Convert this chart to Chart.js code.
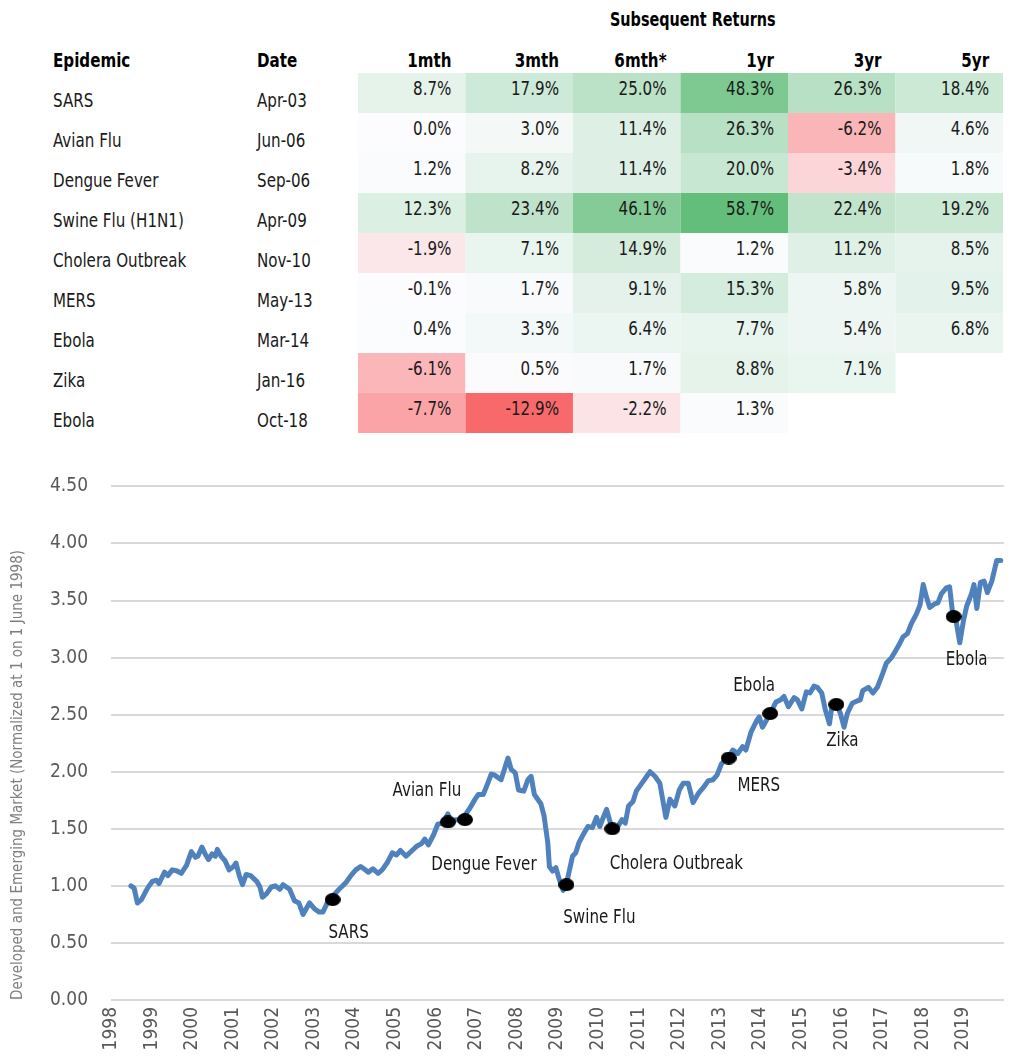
<!DOCTYPE html>
<html>
<head>
<meta charset="utf-8">
<script src="https://cdn.jsdelivr.net/npm/chart.js@4.4.1/dist/chart.umd.min.js"></script>
<style>
  html, body { margin: 0; padding: 0; background: #fff; }
  body { font-family: "DejaVu Sans Condensed", "DejaVu Sans", sans-serif; color: #000; }
  #page { position: relative; width: 1013px; height: 1057px; overflow: hidden; }
  #title {
    position: absolute; left: 610px; top: 9px; font-weight: bold; font-size: 20px; line-height: 20px;
    white-space: nowrap; transform: scaleX(0.8); transform-origin: 0 0;
  }
  /* the grid is laid out wide and squeezed horizontally, so the text reads condensed */
  #grid {
    position: absolute; left: 53px; top: 40px; display: grid;
    grid-template-columns: 242.9px 120.2px repeat(6, 128px);
    grid-template-rows: 33px repeat(9, 40px);
    font-size: 20px; line-height: 20px;
    transform: scaleX(0.84); transform-origin: 0 0;
  }
  #grid div { box-sizing: border-box; white-space: nowrap; }
  .h { font-weight: bold; padding-top: 10px; }
  .hr { text-align: right; padding-right: 16.7px; }
  .num { text-align: right; padding-right: 16.7px; padding-top: 5px; color: #1a1a1a; }
  .lab { padding-top: 17px; color: #1a1a1a; }
  #chartBox { position: absolute; left: 0; top: 452px; width: 1013px; height: 605px; }
</style>
</head>
<body>
<div id="page">
  <div id="title">Subsequent Returns</div>
  <div id="grid"></div>
  <div id="chartBox"><canvas id="chart" width="1013" height="605"></canvas></div>
</div>
<script>
// Epidemics vs developed + emerging market index, with a heat-mapped
// table of subsequent returns above the chart.

const FONT = '"DejaVu Sans Condensed", "DejaVu Sans", sans-serif';

// --- table data ---
const epidemics = ["SARS", "Avian Flu", "Dengue Fever", "Swine Flu (H1N1)", "Cholera Outbreak",
  "MERS", "Ebola", "Zika", "Ebola"];
const epidemicDates = ["Apr-03", "Jun-06", "Sep-06", "Apr-09", "Nov-10", "May-13", "Mar-14", "Jan-16", "Oct-18"];
const returnCols = ["1mth", "3mth", "6mth*", "1yr", "3yr", "5yr"];
const ret1m = [8.7, 0.0, 1.2, 12.3, -1.9, -0.1, 0.4, -6.1, -7.7];
const ret3m = [17.9, 3.0, 8.2, 23.4, 7.1, 1.7, 3.3, 0.5, -12.9];
const ret6m = [25.0, 11.4, 11.4, 46.1, 14.9, 9.1, 6.4, 1.7, -2.2];
const ret1y = [48.3, 26.3, 20.0, 58.7, 1.2, 15.3, 7.7, 8.8, 1.3];
const ret3y = [26.3, -6.2, -3.4, 22.4, 11.2, 5.8, 5.4, 7.1, null];
const ret5y = [18.4, 4.6, 1.8, 19.2, 8.5, 9.5, 6.8, null, null];

// --- index line (decimal year, normalized value) ---
const lineT = [
  1998.49, 1998.57, 1998.65, 1998.75, 1998.90, 1999.02, 1999.12, 1999.18, 1999.32, 1999.40,
  1999.51, 1999.63, 1999.73, 1999.86, 1999.98, 2000.08, 2000.14, 2000.24, 2000.32, 2000.40,
  2000.49, 2000.57, 2000.62, 2000.71, 2000.81, 2000.91, 2001.02, 2001.08, 2001.16, 2001.24,
  2001.33, 2001.44, 2001.59, 2001.67, 2001.73, 2001.83, 2001.95, 2002.05, 2002.16, 2002.24,
  2002.32, 2002.40, 2002.52, 2002.63, 2002.73, 2002.89, 2003.01, 2003.13, 2003.22, 2003.34,
  2003.46, 2003.62, 2003.79, 2003.91, 2004.03, 2004.15, 2004.23, 2004.34, 2004.45, 2004.58,
  2004.68, 2004.80, 2004.93, 2005.03, 2005.13, 2005.27, 2005.42, 2005.54, 2005.65, 2005.73,
  2005.82, 2005.95, 2006.05, 2006.17, 2006.30, 2006.38, 2006.49, 2006.60, 2006.72, 2006.84,
  2006.97, 2007.05, 2007.17, 2007.25, 2007.37, 2007.45, 2007.61, 2007.70, 2007.78, 2007.86,
  2007.96, 2008.04, 2008.17, 2008.27, 2008.35, 2008.43, 2008.59, 2008.67, 2008.76, 2008.80,
  2008.88, 2008.96, 2009.04, 2009.14, 2009.22, 2009.29, 2009.37, 2009.45, 2009.53, 2009.65,
  2009.75, 2009.86, 2009.96, 2010.04, 2010.14, 2010.21, 2010.28, 2010.35, 2010.47, 2010.59,
  2010.67, 2010.75, 2010.86, 2010.94, 2011.08, 2011.20, 2011.28, 2011.40, 2011.52, 2011.59,
  2011.67, 2011.77, 2011.89, 2012.00, 2012.10, 2012.22, 2012.34, 2012.47, 2012.59, 2012.71,
  2012.83, 2012.93, 2013.04, 2013.22, 2013.32, 2013.44, 2013.56, 2013.64, 2013.77, 2013.91,
  2013.97, 2014.05, 2014.24, 2014.38, 2014.50, 2014.58, 2014.69, 2014.83, 2014.91, 2015.02,
  2015.13, 2015.22, 2015.32, 2015.40, 2015.51, 2015.60, 2015.70, 2015.77, 2015.87, 2015.97,
  2016.06, 2016.14, 2016.26, 2016.38, 2016.46, 2016.52, 2016.66, 2016.77, 2016.88, 2017.01,
  2017.10, 2017.23, 2017.33, 2017.41, 2017.51, 2017.62, 2017.72, 2017.84, 2017.93, 2018.01,
  2018.09, 2018.17, 2018.29, 2018.37, 2018.46, 2018.58, 2018.66, 2018.74, 2018.82, 2018.91,
  2019.00, 2019.08, 2019.20, 2019.26, 2019.33, 2019.42, 2019.51, 2019.59, 2019.70, 2019.82,
  2019.92,
];
const lineV = [
  1.00, 0.98, 0.85, 0.88, 0.98, 1.04, 1.05, 1.02, 1.12, 1.09,
  1.14, 1.13, 1.11, 1.18, 1.30, 1.25, 1.26, 1.34, 1.28, 1.23,
  1.28, 1.26, 1.32, 1.26, 1.22, 1.14, 1.17, 1.20, 1.09, 1.01,
  1.10, 1.09, 1.04, 0.99, 0.90, 0.93, 0.99, 1.00, 0.97, 1.01,
  0.99, 0.97, 0.87, 0.85, 0.75, 0.85, 0.80, 0.77, 0.77, 0.86,
  0.91, 0.97, 1.03, 1.09, 1.14, 1.17, 1.15, 1.12, 1.15, 1.11,
  1.14, 1.20, 1.29, 1.27, 1.31, 1.26, 1.31, 1.35, 1.37, 1.41,
  1.36, 1.45, 1.54, 1.55, 1.63, 1.55, 1.58, 1.58, 1.62, 1.68,
  1.76, 1.80, 1.80, 1.87, 1.98, 1.97, 1.93, 2.03, 2.12, 2.02,
  1.99, 1.84, 1.83, 1.93, 1.96, 1.80, 1.72, 1.61, 1.38, 1.17,
  1.13, 1.16, 1.06, 0.96, 1.02, 1.13, 1.26, 1.29, 1.38, 1.46,
  1.52, 1.51, 1.60, 1.52, 1.61, 1.67, 1.58, 1.50, 1.51, 1.58,
  1.55, 1.70, 1.74, 1.83, 1.90, 1.96, 2.00, 1.96, 1.90, 1.76,
  1.60, 1.76, 1.70, 1.84, 1.90, 1.90, 1.73, 1.81, 1.86, 1.92,
  1.93, 1.97, 2.07, 2.13, 2.19, 2.16, 2.22, 2.19, 2.35, 2.45,
  2.48, 2.39, 2.51, 2.61, 2.63, 2.66, 2.57, 2.65, 2.63, 2.55,
  2.70, 2.69, 2.75, 2.74, 2.69, 2.54, 2.42, 2.60, 2.60, 2.51,
  2.39, 2.51, 2.60, 2.62, 2.63, 2.71, 2.74, 2.69, 2.74, 2.86,
  2.95, 3.00, 3.06, 3.11, 3.18, 3.21, 3.30, 3.38, 3.46, 3.64,
  3.53, 3.44, 3.47, 3.48, 3.56, 3.61, 3.62, 3.37, 3.32, 3.13,
  3.32, 3.45, 3.56, 3.64, 3.43, 3.66, 3.67, 3.57, 3.67, 3.85,
  3.85,
];

// --- event markers on the chart ---
const eventNames = ["SARS", "Avian Flu", "Dengue Fever", "Swine Flu", "Cholera Outbreak",
  "MERS", "Ebola", "Zika", "Ebola"];
const eventT = [2003.46, 2006.30, 2006.72, 2009.22, 2010.35, 2013.22, 2014.24, 2015.87, 2018.76];
const eventV = [0.88, 1.56, 1.58, 1.01, 1.50, 2.12, 2.51, 2.59, 3.36];

// label placement relative to each marker (px), styling only
const LABEL_OFFSET = [[16, 33], [-21, -31], [19, 45], [33, 33], [64, 35], [30, 28], [-16, -28], [6, 36], [13, 43]];

// --- table ---
const returnSeries = [ret1m, ret3m, ret6m, ret1y, ret3y, ret5y];
const allReturns = returnSeries.flat().filter((v) => v != null);
const RET_MIN = Math.min(...allReturns);
const RET_MAX = Math.max(...allReturns);

// Excel-style 3 colour scale: red at min, white at 0, green at max
function mix(a, b, f) {
  return a.map((c, i) => Math.round(c + (b[i] - c) * f));
}
function heat(v) {
  const white = [252, 252, 255], red = [248, 105, 107], green = [99, 190, 123];
  const rgb = v < 0 ? mix(white, red, v / RET_MIN) : mix(white, green, v / RET_MAX);
  return `rgb(${rgb.join(",")})`;
}

function buildTable() {
  const cells = [];
  cells.push(`<div class="h">Epidemic</div>`, `<div class="h">Date</div>`);
  returnCols.forEach((c) => cells.push(`<div class="h hr">${c}</div>`));
  epidemics.forEach((name, r) => {
    cells.push(`<div class="lab">${name}</div>`, `<div class="lab">${epidemicDates[r]}</div>`);
    returnSeries.forEach((col) => {
      const v = col[r];
      if (v == null) cells.push(`<div></div>`);
      else cells.push(`<div class="num" style="background:${heat(v)}">${v.toFixed(1)}%</div>`);
    });
  });
  document.getElementById("grid").innerHTML = cells.join("");
}
buildTable();

// --- chart ---
function ellipseMarker(w, h) {
  const c = document.createElement("canvas");
  c.width = w; c.height = h;
  const g = c.getContext("2d");
  g.fillStyle = "#000";
  g.beginPath();
  g.ellipse(w / 2, h / 2, w / 2, h / 2, 0, 0, Math.PI * 2);
  g.fill();
  return c;
}

const eventLabels = {
  id: "eventLabels",
  afterDatasetsDraw(chart) {
    const ctx = chart.ctx;
    const meta = chart.getDatasetMeta(0);
    ctx.font = `20px ${FONT}`;
    ctx.fillStyle = "#1a1a1a";
    ctx.textAlign = "center";
    ctx.textBaseline = "middle";
    meta.data.forEach((pt, i) => {
      ctx.save();
      ctx.translate(pt.x + LABEL_OFFSET[i][0], pt.y + LABEL_OFFSET[i][1]);
      ctx.scale(0.84, 1);
      ctx.fillText(eventNames[i], 0, 0);
      ctx.restore();
    });
  },
};

const tickFont = { family: FONT, size: 19 };

new Chart(document.getElementById("chart"), {
  type: "scatter",
  data: {
    datasets: [
      {
        label: "Epidemics",
        data: eventT.map((t, i) => ({ x: t, y: eventV[i] })),
        pointStyle: ellipseMarker(16, 13),
        pointRadius: 8,
        showLine: false,
        order: 0,
      },
      {
        label: "Developed and Emerging Market",
        data: lineT.map((t, i) => ({ x: t, y: lineV[i] })),
        showLine: true,
        borderColor: "#4f81bd",
        borderWidth: 5,
        borderJoinStyle: "round",
        borderCapStyle: "round",
        pointRadius: 0,
        order: 1,
      },
    ],
  },
  options: {
    responsive: false,
    animation: false,
    events: [],
    layout: { padding: { top: 10, right: 2, left: 0, bottom: 0 } },
    plugins: { legend: { display: false }, tooltip: { enabled: false } },
    scales: {
      x: {
        type: "linear", min: 1998, max: 2020,
        afterFit: (s) => { s.height = 57; s.paddingLeft = 0; s.paddingRight = 0; },
        grid: { display: false, drawTicks: false },
        border: { display: false },
        ticks: {
          stepSize: 1, autoSkip: false, minRotation: 90, maxRotation: 90, padding: 7,
          color: "#595959", font: tickFont,
          callback: (v) => (v < 2020 ? String(v) : ""),
        },
      },
      y: {
        min: 0, max: 4.5,
        afterFit: (s) => { s.width = 111; },
        grid: { color: "#d9d9d9", lineWidth: 2, drawTicks: false },
        border: { display: false },
        ticks: {
          stepSize: 0.5, padding: 23, color: "#595959", font: tickFont,
          callback: (v) => v.toFixed(2),
        },
        title: {
          display: true,
          align: "start",
          text: "Developed and Emerging Market (Normalized at 1 on 1 June 1998)",
          color: "#7f7f7f", font: { family: FONT, size: 15 },
          padding: { top: 9, bottom: 0 },
        },
      },
    },
  },
  plugins: [eventLabels],
});
</script>
</body>
</html>
